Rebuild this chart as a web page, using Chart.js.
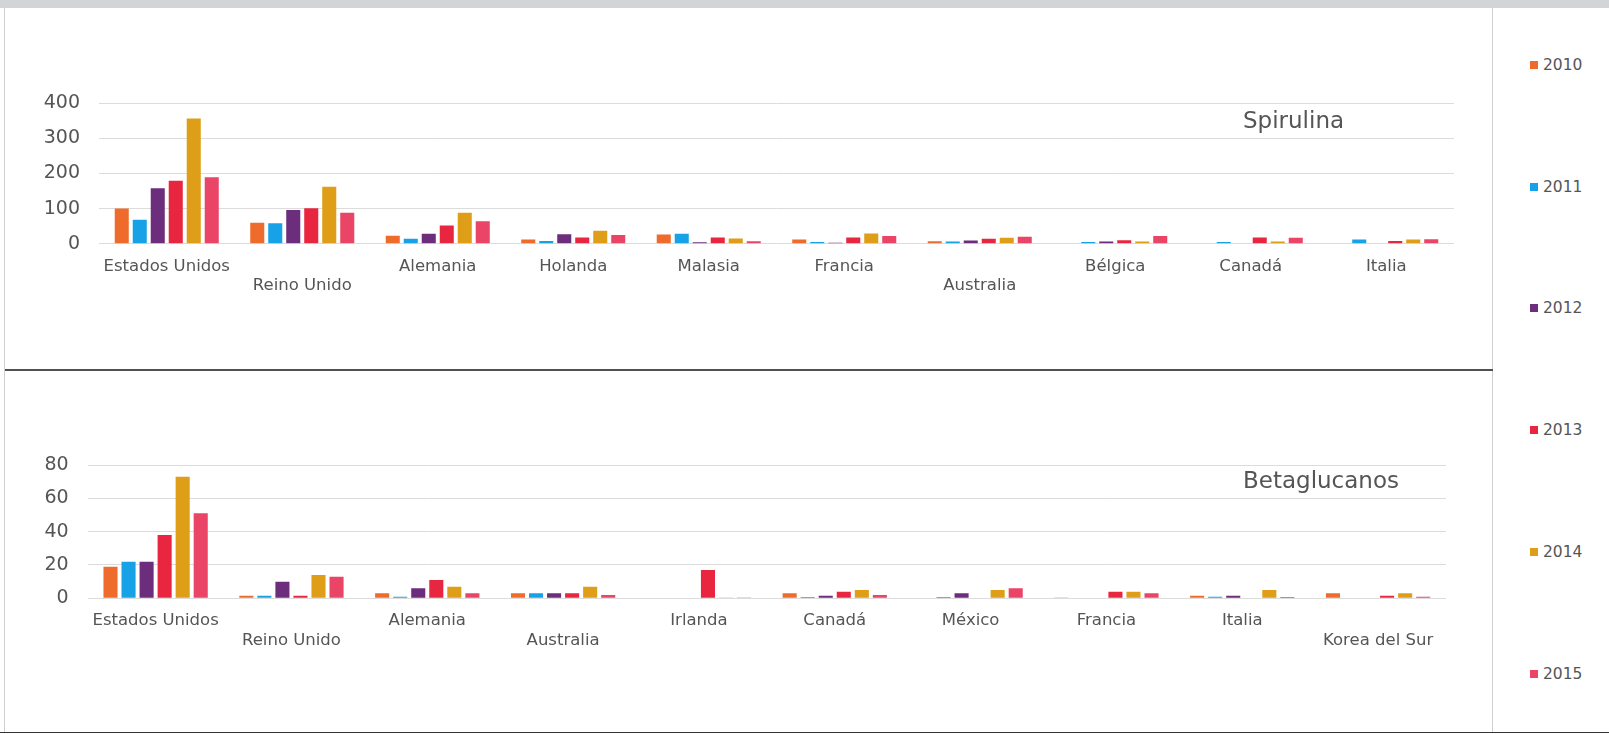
<!DOCTYPE html>
<html>
<head>
<meta charset="utf-8">
<script src="https://cdn.jsdelivr.net/npm/chart.js@4.4.1/dist/chart.umd.min.js"></script>
<style>
  body { margin:0; background:#fff; width:1609px; height:734px; position:relative; overflow:hidden; font-family:'DejaVu Sans',sans-serif; }
  #topbar { position:absolute; left:0; top:0; width:1609px; height:8px; background:#d3d4d5; }
  #leftline { position:absolute; left:4px; top:8px; width:1px; height:725px; background:#d0d0d0; }
  #rightline { position:absolute; left:1492px; top:8px; width:1px; height:725px; background:#d0d0d0; }
  #divider { position:absolute; left:5px; top:369px; width:1488px; height:2px; background:#505050; }
  #bottomline { position:absolute; left:0; top:732px; width:1609px; height:1px; background:#333; }
  canvas { position:absolute; left:5px; }
  #c1 { top:8px; }
  #c2 { top:372px; }
  .leg { position:absolute; left:1530px; font-size:15.5px; color:#555; line-height:18px; white-space:nowrap; }
  .leg i { display:inline-block; width:8px; height:8px; margin-right:5px; vertical-align:1px; }
</style>
</head>
<body>
<div id="topbar"></div>
<div id="leftline"></div>
<div id="rightline"></div>
<div id="divider"></div>
<div id="bottomline"></div>
<canvas id="c1" width="1487" height="361"></canvas>
<canvas id="c2" width="1487" height="360"></canvas>
<div id="legend"></div>

<script>
// ============ DATA ============
const years = ['2010', '2011', '2012', '2013', '2014', '2015'];
const yearColors = ['#EF6B2B', '#17A2E8', '#6B2D7C', '#E8263F', '#DE9E17', '#EA4466'];

const spirulinaCountries = ['Estados Unidos', 'Reino Unido', 'Alemania', 'Holanda', 'Malasia', 'Francia', 'Australia', 'Bélgica', 'Canadá', 'Italia'];
const spirulinaLowLabels = [1, 6];   // labels pushed to the second line
const spirulinaTicks = [0, 100, 200, 300, 400];
const spirulina2010 = [100, 60, 23, 12, 26, 12, 7, 1.5, 0, 0];
const spirulina2011 = [68, 58, 14, 8, 28, 5, 6, 5, 5, 12];
const spirulina2012 = [158, 96, 28, 27, 4, 3, 9, 6, 0, 0];
const spirulina2013 = [179, 101, 52, 18, 18, 18, 14, 10, 18, 8];
const spirulina2014 = [357, 162, 88, 37, 15, 29, 17, 6, 6, 12];
const spirulina2015 = [189, 88, 64, 25, 7, 22, 20, 22, 17, 13];

const betaCountries = ['Estados Unidos', 'Reino Unido', 'Alemania', 'Australia', 'Irlanda', 'Canadá', 'México', 'Francia', 'Italia', 'Korea del Sur'];
const betaLowLabels = [1, 3, 9];
const betaTicks = [0, 20, 40, 60, 80];
const beta2010 = [19, 1.5, 3, 3, 0, 3, 0, 0.5, 1.5, 3];
const beta2011 = [22, 1.5, 1, 3, 0, 0.8, 0.8, 0, 1, 0];
const beta2012 = [22, 10, 6, 3, 0, 1.5, 3, 0, 1.5, 0];
const beta2013 = [38, 1.5, 11, 3, 17, 4, 0, 4, 0, 1.5];
const beta2014 = [73, 14, 7, 7, 0.5, 5, 5, 4, 5, 3];
const beta2015 = [51, 13, 3, 2, 0.5, 2, 6, 3, 0.8, 1];

// ============ HELPERS ============
const TEXT = '#555';
const GRID = '#dcdcdc';

function makeLabels(names, low) {
  return names.map((n, i) => low.includes(i) ? ['', n] : [n]);
}

// product name written inside the plot area
const panelTitle = {
  id: 'panelTitle',
  afterDraw(chart, args, opts) {
    const ctx = chart.ctx;
    ctx.save();
    ctx.font = '23px "DejaVu Sans"';
    ctx.fillStyle = TEXT;
    ctx.textAlign = 'left';
    ctx.textBaseline = 'middle';
    ctx.fillText(opts.text, opts.x, chart.chartArea.top + opts.dy);
    ctx.restore();
  }
};

function buildChart(id, names, low, series, ticks, box) {
  const max = ticks[ticks.length - 1];
  return new Chart(document.getElementById(id), {
    type: 'bar',
    data: {
      labels: makeLabels(names, low),
      datasets: series.map((d, i) => ({
        label: years[i], data: d, backgroundColor: yearColors[i],
        categoryPercentage: 0.797, barPercentage: 0.78
      }))
    },
    plugins: [panelTitle],
    options: {
      responsive: false, animation: false,
      layout: { padding: { top: box.top, right: box.right, left: 0, bottom: 0 } },
      plugins: {
        legend: { display: false }, tooltip: { enabled: false },
        panelTitle: { text: box.title, x: box.titleX, dy: box.titleDy }
      },
      scales: {
        x: {
          grid: { display: false, drawTicks: false }, border: { display: false },
          ticks: { color: TEXT, font: { family: 'DejaVu Sans', size: 16.5, lineHeight: 1.17 }, padding: 13, autoSkip: false, maxRotation: 0 },
          afterFit: s => { s.height = box.xh; }
        },
        y: {
          min: 0, max: max,
          afterBuildTicks: s => { s.ticks = ticks.map(v => ({ value: v })); },
          grid: { color: GRID, lineWidth: 1, drawTicks: false }, border: { display: false },
          ticks: { color: TEXT, font: { family: 'DejaVu Sans', size: 19 }, padding: 19 },
          afterFit: s => { s.width = box.yw; }
        }
      }
    }
  });
}

buildChart('c1', spirulinaCountries, spirulinaLowLabels,
  [spirulina2010, spirulina2011, spirulina2012, spirulina2013, spirulina2014, spirulina2015],
  spirulinaTicks,
  { top: 95.3, right: 38, xh: 125.3, yw: 94, title: 'Spirulina', titleX: 1238, titleDy: 18.4 });

buildChart('c2', betaCountries, betaLowLabels,
  [beta2010, beta2011, beta2012, beta2013, beta2014, beta2015],
  betaTicks,
  { top: 93, right: 46, xh: 133.7, yw: 82.7, title: 'Betaglucanos', titleX: 1238, titleDy: 16.7 });

// ============ LEGEND ============
document.getElementById('legend').innerHTML = years.map((y, i) =>
  `<div class="leg" style="top:${55.6 + i * 121.9}px"><i style="background:${yearColors[i]}"></i>${y}</div>`
).join('');
</script>
</body>
</html>
